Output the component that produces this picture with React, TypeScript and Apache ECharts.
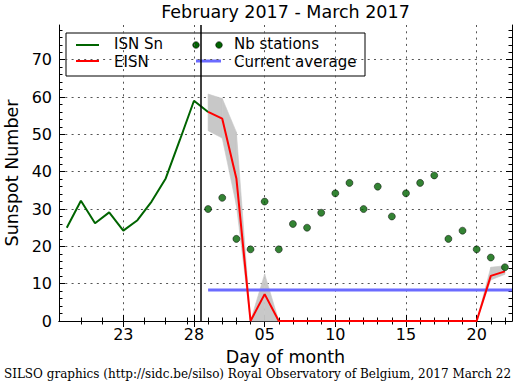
import React, { useEffect, useRef } from 'react';
import * as echarts from 'echarts';

// ---- data ----
// February days (day of month) and provisional daily ISN Sn
const febDays = [19, 20, 21, 22, 23, 24, 25, 26, 27, 28];
const isnSn = [25, 32.2, 26.2, 29.1, 24.2, 27, 32, 38.2, 48.5, 59];
// March days (day of month)
const marDays = [1, 2, 3, 4, 5, 6, 7, 8, 9, 10, 11, 12, 13, 14, 15, 16, 17, 18, 19, 20, 21, 22];
const eisn = [56, 54.2, 38.2, 0, 7.2, 0, 0, 0, 0, 0, 0, 0, 0, 0, 0, 0, 0, 0, 0, 0, 12.1, 13.3];
const eisnLow = [51, 49, 31, 0, 0, 0, 0, 0, 0, 0, 0, 0, 0, 0, 0, 0, 0, 0, 0, 0, 11, 12.5];
const eisnHigh = [60.8, 59.6, 50.6, 0, 12.6, 0, 0, 0, 0, 0, 0, 0, 0, 0, 0, 0, 0, 0, 0, 0, 14.4, 14.8];
const nbStations = [30, 33, 22, 19.2, 32, 19.2, 26, 25, 29, 34.2, 37, 30, 36, 28, 34.2, 37, 39, 22, 24.2, 19.2, 17, 14.4];
const currentAverage = 8.3;

// ticks (continuous day index: Feb d -> d, Mar d -> 28 + d)
const xMajorTicks = [23, 28, 33, 38, 43, 48];
const xTickLabels = ['23', '28', '05', '10', '15', '20'];
const xMinorTicks = [20, 21.5, 24.5, 26, 27.5, 29, 30, 31, 32, 34, 35, 36, 37, 39, 40, 41, 42, 44, 45, 46, 47, 49, 50];
const yMajorTicks = [0, 10, 20, 30, 40, 50, 60, 70];
const yMinorTicks = [2, 4, 6, 8, 12, 14, 16, 18, 22, 24, 26, 28, 32, 34, 36, 38, 42, 44, 46, 48, 52, 54, 56, 58, 62, 64, 66, 68, 72, 74, 76, 78];

const monthBoundary = 28.5;
const X_MIN = 18.45;
const X_MAX = 50.5;
const Y_MIN = 0;
const Y_MAX = 79.3;

const FONT = 'DejaVu Sans';
const GREEN = '#006400';
const RED = '#ff0000';
const BLUE = '#6b6bff';
const BAND = '#c8c8c8';

const marX = (d: number) => 28 + d;

export default function App() {
  const ref = useRef<HTMLDivElement>(null);

  useEffect(() => {
    if (!ref.current) return;
    const chart = echarts.init(ref.current, null, { renderer: 'svg' });

    const frameLine = () => ({ show: true, lineStyle: { color: '#000', width: 1 } });
    const noLabel = () => ({ show: false });

    const xBase = () => ({
      type: 'value' as const,
      min: X_MIN,
      max: X_MAX,
      gridIndex: 0,
      splitLine: { show: false },
    });
    const yBase = () => ({
      type: 'value' as const,
      min: Y_MIN,
      max: Y_MAX,
      gridIndex: 0,
      splitLine: { show: false },
    });

    const bandSegments = marDays.slice(0, -1).map((d, i) => [
      marX(d), eisnLow[i], eisnHigh[i],
      marX(marDays[i + 1]), eisnLow[i + 1], eisnHigh[i + 1],
    ]);

    const option: any = {
      animation: false,
      grid: { left: 59, top: 25, right: 5, bottom: 68, containLabel: false, outerBoundsMode: 'none' },
      xAxis: [
        {
          ...xBase(),
          position: 'bottom',
          axisLine: frameLine(),
          axisTick: { show: true, inside: true, length: 6, customValues: xMajorTicks, lineStyle: { color: '#000' } },
          axisLabel: {
            show: true,
            customValues: xMajorTicks,
            formatter: (v: number) => {
              const k = xMajorTicks.indexOf(Math.round(v));
              return k >= 0 ? xTickLabels[k] : '';
            },
            fontFamily: FONT,
            fontSize: 16,
            color: '#000',
            margin: 5,
          },
          splitLine: { show: true, lineStyle: { color: '#555', type: [2, 4.3], width: 1 } },
          name: 'Day of month',
          nameLocation: 'middle',
          nameGap: 27,
          nameTextStyle: { fontFamily: FONT, fontSize: 17.5, color: '#000', lineHeight: 18 },
        },
        {
          ...xBase(),
          position: 'bottom',
          axisLine: { show: false },
          axisTick: { show: true, inside: true, length: 3.5, customValues: xMinorTicks, lineStyle: { color: '#000' } },
          axisLabel: noLabel(),
        },
        {
          ...xBase(),
          position: 'top',
          axisLine: frameLine(),
          axisTick: { show: true, inside: true, length: 6, customValues: xMajorTicks, lineStyle: { color: '#000' } },
          axisLabel: noLabel(),
        },
        {
          ...xBase(),
          position: 'top',
          axisLine: { show: false },
          axisTick: { show: true, inside: true, length: 3.5, customValues: xMinorTicks, lineStyle: { color: '#000' } },
          axisLabel: noLabel(),
        },
      ],
      yAxis: [
        {
          ...yBase(),
          position: 'left',
          axisLine: frameLine(),
          axisTick: { show: true, inside: true, length: 6, customValues: yMajorTicks, lineStyle: { color: '#000' } },
          axisLabel: {
            show: true,
            customValues: yMajorTicks,
            fontFamily: FONT,
            fontSize: 16,
            color: '#000',
            margin: 7,
          },
          splitLine: { show: true, lineStyle: { color: '#555', type: [2, 4.3], width: 1 } },
          name: 'Sunspot Number',
          nameLocation: 'middle',
          nameRotate: 90,
          nameGap: 36,
          nameTextStyle: { fontFamily: FONT, fontSize: 17.5, color: '#000', lineHeight: 18 },
        },
        {
          ...yBase(),
          position: 'left',
          axisLine: { show: false },
          axisTick: { show: true, inside: true, length: 3.5, customValues: yMinorTicks, lineStyle: { color: '#000' } },
          axisLabel: noLabel(),
        },
        {
          ...yBase(),
          position: 'right',
          axisLine: frameLine(),
          axisTick: { show: true, inside: true, length: 6, customValues: yMajorTicks, lineStyle: { color: '#000' } },
          axisLabel: noLabel(),
        },
        {
          ...yBase(),
          position: 'right',
          axisLine: { show: false },
          axisTick: { show: true, inside: true, length: 3.5, customValues: yMinorTicks, lineStyle: { color: '#000' } },
          axisLabel: noLabel(),
        },
      ],
      series: [
        {
          name: 'EISN band',
          type: 'custom',
          coordinateSystem: 'cartesian2d',
          xAxisIndex: 0,
          yAxisIndex: 0,
          data: bandSegments,
          encode: { x: [0, 3], y: [1, 2, 4, 5] },
          renderItem: (_params: any, api: any) => {
            const p1 = api.coord([api.value(0), api.value(1)]);
            const p2 = api.coord([api.value(3), api.value(4)]);
            const p3 = api.coord([api.value(3), api.value(5)]);
            const p4 = api.coord([api.value(0), api.value(2)]);
            return {
              type: 'polygon',
              shape: { points: [p1, p2, p3, p4] },
              style: { fill: BAND, stroke: BAND, lineWidth: 0.6 },
            };
          },
          silent: true,
          z: 1,
        },
        {
          name: 'Current average',
          type: 'line',
          data: [
            [marX(marDays[0]), currentAverage],
            [X_MAX, currentAverage],
          ],
          symbol: 'none',
          lineStyle: { color: BLUE, width: 3 },
          z: 2,
        },
        {
          name: 'ISN Sn',
          type: 'line',
          data: [...febDays.map((d, i) => [d, isnSn[i]]), [marX(marDays[0]), eisn[0]]],
          symbol: 'none',
          lineStyle: { color: GREEN, width: 2 },
          z: 3,
        },
        {
          name: 'EISN',
          type: 'line',
          data: marDays.map((d, i) => [marX(d), eisn[i]]),
          symbol: 'none',
          lineStyle: { color: RED, width: 2 },
          z: 4,
          markLine: {
            silent: true,
            symbol: 'none',
            label: { show: false },
            lineStyle: { color: '#000', width: 1.5, type: 'solid' },
            data: [{ xAxis: monthBoundary }],
          },
        },
        {
          name: 'Nb stations',
          type: 'scatter',
          data: marDays.map((d, i) => [marX(d), nbStations[i]]),
          symbol: 'circle',
          symbolSize: 7,
          itemStyle: { color: GREEN, borderColor: '#000', borderWidth: 0.6 },
          z: 5,
        },
      ],
      graphic: [
        {
          type: 'text',
          x: 285.5,
          y: 12,
          style: {
            text: 'February 2017 - March 2017',
            fontFamily: FONT,
            fontSize: 17.5,
            lineHeight: 18,
            fill: '#000',
            align: 'center',
            verticalAlign: 'middle',
          },
        },
        {
          type: 'group',
          z: 100,
          children: [
            { type: 'rect', shape: { x: 66, y: 33, width: 299, height: 43 }, style: { fill: '#fff', stroke: '#000', lineWidth: 1 } },
            { type: 'line', shape: { x1: 76, y1: 45, x2: 99, y2: 45 }, style: { stroke: GREEN, lineWidth: 2 } },
            { type: 'text', x: 114, y: 44.2, style: { text: 'ISN Sn', fontFamily: FONT, fontSize: 15, lineHeight: 15, fill: '#000', verticalAlign: 'middle' } },
            { type: 'line', shape: { x1: 76, y1: 61, x2: 99, y2: 61 }, style: { stroke: RED, lineWidth: 2 } },
            { type: 'text', x: 114, y: 61.8, style: { text: 'EISN', fontFamily: FONT, fontSize: 15, lineHeight: 15, fill: '#000', verticalAlign: 'middle' } },
            { type: 'circle', shape: { cx: 196, cy: 45, r: 3.3 }, style: { fill: GREEN, stroke: '#000', lineWidth: 0.6 } },
            { type: 'circle', shape: { cx: 219, cy: 45, r: 3.3 }, style: { fill: GREEN, stroke: '#000', lineWidth: 0.6 } },
            { type: 'text', x: 234, y: 44.2, style: { text: 'Nb stations', fontFamily: FONT, fontSize: 15, lineHeight: 15, fill: '#000', verticalAlign: 'middle' } },
            { type: 'line', shape: { x1: 196, y1: 61, x2: 221, y2: 61 }, style: { stroke: BLUE, lineWidth: 3 } },
            { type: 'text', x: 234, y: 61.8, style: { text: 'Current average', fontFamily: FONT, fontSize: 15, lineHeight: 15, fill: '#000', verticalAlign: 'middle' } },
          ],
        },
        {
          type: 'text',
          x: 257.5,
          y: 374,
          style: {
            text: 'SILSO graphics (http://sidc.be/silso) Royal Observatory of Belgium, 2017 March 22',
            fontFamily: 'DejaVu Serif',
            fontSize: 12,
            lineHeight: 12,
            fill: '#000',
            align: 'center',
            verticalAlign: 'middle',
          },
        },
      ],
    };

    chart.setOption(option);
    return () => chart.dispose();
  }, []);

  return (
    <div
      ref={ref}
      style={{ position: 'fixed', left: 0, top: 0, width: 517, height: 389, background: '#fff' }}
    />
  );
}
